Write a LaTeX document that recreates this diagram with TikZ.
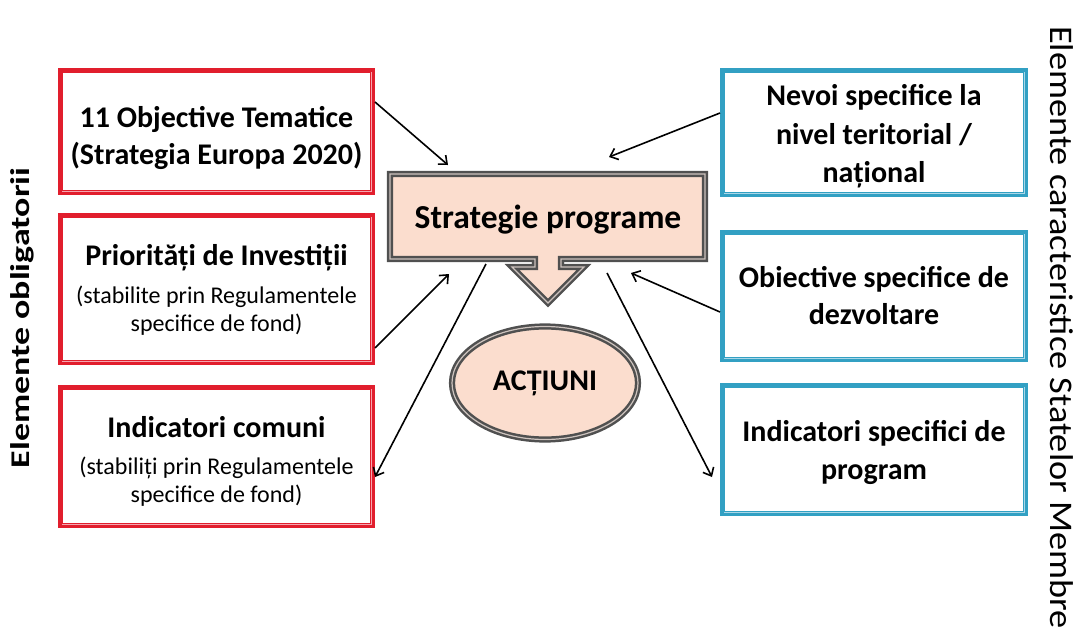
\documentclass[tikz,border=0pt]{standalone}
\usepackage{fontspec}
\setmainfont{Carlito}
\usetikzlibrary{shapes.geometric,arrows.meta,calc}
\definecolor{boxred}{RGB}{225,30,45}
\definecolor{boxredlt}{RGB}{246,165,175}
\definecolor{boxblue}{RGB}{50,160,195}
\definecolor{boxbluelt}{RGB}{170,215,232}
\definecolor{peach}{RGB}{251,221,206}
\definecolor{edgegray}{RGB}{80,80,80}
\definecolor{edgegraylt}{RGB}{205,195,190}
\newcommand\ttlfont{\fontsize{30}{37}\selectfont\bfseries}
\newcommand\subfont{\fontsize{24}{28}\selectfont}
\begin{document}
\begin{tikzpicture}[x=1pt,y=-1pt,
  redbox/.style={draw=boxred, fill=boxredlt, line width=3.5pt,
    inner sep=0pt, minimum width=313.5pt},
  bluebox/.style={draw=boxblue, fill=boxbluelt, line width=3.5pt,
    inner sep=0pt, minimum width=304.5pt},
  redinner/.style={draw=boxred, fill=white, line width=1.2pt},
  blueinner/.style={draw=boxblue, fill=white, line width=1.2pt},
  boxtext/.style={align=center, inner sep=0pt},
  grayedge/.style={draw=edgegray, double=edgegraylt, double distance=1.2pt, line width=2.5pt, fill=peach},
  arr/.style={draw=black, line width=1.6pt, -{Straight Barb[length=7pt,width=12pt,line width=1.6pt]}},
  vlabel/.style={inner sep=0pt}
]
\useasboundingbox (0,0) rectangle (1089,629);
\clip (0,0) rectangle (1089,629);

% left boxes
\node[redbox, minimum height=123.5pt] (b1) at (216.5,131.5) {};
\node[redbox, minimum height=148.5pt] (b2) at (216.5,289) {};
\node[redbox, minimum height=139.5pt] (b3) at (216.5,456.5) {};
% right boxes
\node[bluebox, minimum height=125.5pt] (bA) at (874,132.5) {};
\node[bluebox, minimum height=128.5pt] (bB) at (874,296) {};
\node[bluebox, minimum height=129.5pt] (bC) at (874,449.5) {};

\foreach \n in {b1,b2,b3}
  \draw[redinner] ([shift={(4.6pt,-4.6pt)}]\n.north west) rectangle ([shift={(-4.6pt,4.6pt)}]\n.south east);
\foreach \n in {bA,bB,bC}
  \draw[blueinner] ([shift={(4.6pt,-4.6pt)}]\n.north west) rectangle ([shift={(-4.6pt,4.6pt)}]\n.south east);

\node[boxtext, font=\ttlfont] (t1) at ([yshift=-6pt]b1.center)
  {11 Objective Tematice\\(Strategia Europa 2020)};
\node[boxtext, font=\subfont] (t2) at ([yshift=-1pt]b2.center)
  {{\ttlfont Priorități de Investiții}\\[10pt](stabilite prin Regulamentele\\specifice de fond)};
\node[boxtext, font=\subfont] (t3) at ([yshift=-5pt]b3.center)
  {{\ttlfont Indicatori comuni}\\[9pt](stabiliți prin Regulamentele\\specifice de fond)};
\node[boxtext, font=\fontsize{30}{38.5}\selectfont\bfseries] (tA) at ([yshift=-4pt]bA.center)
  {Nevoi specifice la\\nivel teritorial /\\național};
\node[boxtext, font=\ttlfont] (tB) at ([yshift=0pt]bB.center)
  {Obiective specifice de\\dezvoltare};
\node[boxtext, font=\fontsize{30}{38}\selectfont\bfseries] (tC) at ([yshift=-3pt]bC.center)
  {Indicatori specifici de\\program};

% central callout
\path[grayedge] (390,174) -- (705,174) -- (705,259) -- (561,259) -- (561,267) -- (584,267)
  -- (548,303) -- (512,267) -- (535,267) -- (535,259) -- (390,259) -- cycle;
\node[font=\fontsize{33.5}{33.5}\selectfont\bfseries] (strat) at (548,220) {Strategie programe};

% ellipse
\node[ellipse, grayedge, minimum width=186pt, minimum height=113pt,
  font=\fontsize{30}{30}\selectfont\bfseries] (act) at (545,383) {ACȚIUNI};

% arrow end points
\coordinate (e1) at (448,165);
\coordinate (e2) at (449,274);
\coordinate (s3) at (486,264);
\coordinate (e4) at (609,157);
\coordinate (e5) at (631,273);
\coordinate (s6) at (607,273);

\draw[arr] ([yshift=29.5pt]b1.east) -- (e1);
\draw[arr] ([yshift=-59pt]b2.east) -- (e2);
\draw[arr] (s3) -- ([yshift=-20.5pt]b3.east);
\draw[arr] ([yshift=19.5pt]bA.west) -- (e4);
\draw[arr] ([yshift=-16pt]bB.west) -- (e5);
\draw[arr] (s6) -- ([xshift=-8pt,yshift=-27.5pt]bC.west);

% side labels
\node[vlabel, rotate=90, font=\fontsize{27}{27}\selectfont\bfseries] (lside) at (22,318)
  {\scalebox{1.33}[1]{Elemente obligatorii}};
\node[vlabel, rotate=-90, anchor=west, font=\fontsize{33}{33}\selectfont] (rside) at (1062,26)
  {\scalebox{1.1}[1]{Elemente caracteristice Statelor Membre}};
\end{tikzpicture}
\end{document}
